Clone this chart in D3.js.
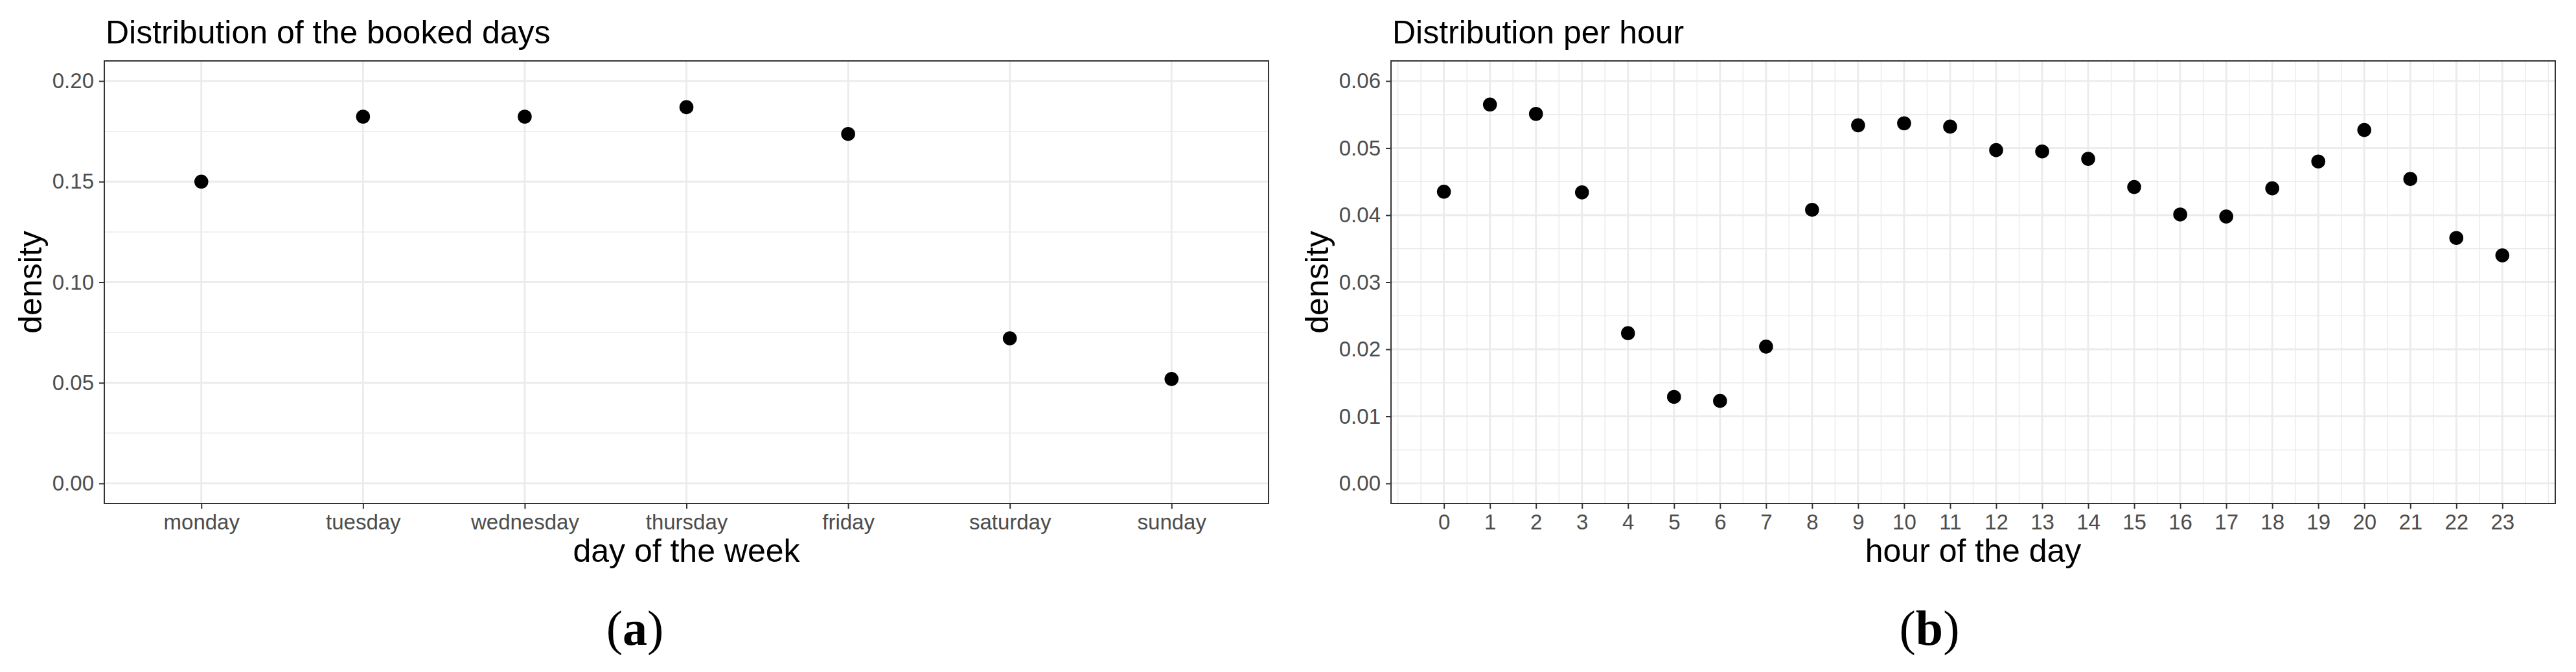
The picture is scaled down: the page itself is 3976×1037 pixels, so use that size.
<!DOCTYPE html>
<html>
<head>
<meta charset="utf-8">
<script src="https://cdn.jsdelivr.net/npm/d3@7"></script>
<style>
  body { margin: 0; background: #fff; }
  svg { display: block; }
</style>
</head>
<body>
<div id="grafico"></div>
<script>
// datos
var dias = ["monday", "tuesday", "wednesday", "thursday", "friday", "saturday", "sunday"];
var densidad_dias = [0.1500, 0.1823, 0.1823, 0.1870, 0.1737, 0.0721, 0.0519];
var ticks_dias = [0, 0.05, 0.10, 0.15, 0.20];

var horas = [0, 1, 2, 3, 4, 5, 6, 7, 8, 9, 10, 11, 12, 13, 14, 15, 16, 17, 18, 19, 20, 21, 22, 23];
var densidad_horas = [0.0435, 0.0565, 0.0551, 0.0434, 0.0224, 0.0129, 0.0123, 0.0204,
                      0.0408, 0.0534, 0.0537, 0.0532, 0.0497, 0.0495, 0.0484, 0.0442,
                      0.0401, 0.0398, 0.0440, 0.0480, 0.0527, 0.0454, 0.0366, 0.0340];
var ticks_horas = [0, 0.01, 0.02, 0.03, 0.04, 0.05, 0.06];

var W = 3976, H = 1037;
var fuente = "'Liberation Sans', Arial, Helvetica, sans-serif";
var gris_grid = "#EBEBEB", gris_borde = "#333333", gris_texto = "#4D4D4D";

var svg = d3.select("#grafico").append("svg")
  .attr("width", W)
  .attr("height", H);

var top_panel = 94, bottom_panel = 777;

function estilo_eje(g) {
  g.select(".domain").remove();
  g.attr("font-family", fuente).attr("font-size", 33);
  g.selectAll("line").attr("stroke", gris_borde).attr("stroke-width", 2);
  g.selectAll("text").attr("fill", gris_texto);
}

function dibuja_panel(p) {
  var g = svg.append("g");
  var x = p.x, y = p.y;

  //**** grid menor ****
  g.selectAll(".menor_y").data(p.menor_y).enter().append("line")
    .attr("x1", p.izq).attr("x2", p.der)
    .attr("y1", function(d) { return y(d); })
    .attr("y2", function(d) { return y(d); })
    .attr("stroke", gris_grid).attr("stroke-width", 1.5);
  if (p.menor_x) {
    g.selectAll(".menor_x").data(p.menor_x).enter().append("line")
      .attr("y1", top_panel).attr("y2", bottom_panel)
      .attr("x1", function(d) { return x(d); })
      .attr("x2", function(d) { return x(d); })
      .attr("stroke", gris_grid).attr("stroke-width", 1.5);
  }
  //**** grid mayor ****
  g.selectAll(".mayor_y").data(p.ticks_y).enter().append("line")
    .attr("x1", p.izq).attr("x2", p.der)
    .attr("y1", function(d) { return y(d); })
    .attr("y2", function(d) { return y(d); })
    .attr("stroke", gris_grid).attr("stroke-width", 2.8);
  g.selectAll(".mayor_x").data(p.cats).enter().append("line")
    .attr("y1", top_panel).attr("y2", bottom_panel)
    .attr("x1", function(d) { return x(d); })
    .attr("x2", function(d) { return x(d); })
    .attr("stroke", gris_grid).attr("stroke-width", 2.8);

  //**** puntos ****
  g.selectAll("circle").data(p.valores).enter().append("circle")
    .attr("cx", function(d, i) { return x(p.cats[i]); })
    .attr("cy", function(d) { return y(d); })
    .attr("r", 10.8)
    .attr("fill", "#000");

  // borde del panel
  g.append("rect")
    .attr("x", p.izq).attr("y", top_panel)
    .attr("width", p.der - p.izq).attr("height", bottom_panel - top_panel)
    .attr("fill", "none").attr("stroke", gris_borde).attr("stroke-width", 2);

  //**** ejes ****
  var ejeY = d3.axisLeft(y).tickValues(p.ticks_y).tickFormat(d3.format(".2f"))
    .tickSize(8).tickPadding(8);
  g.append("g").attr("transform", "translate(" + p.izq + ",0)").call(ejeY).call(estilo_eje);

  var ejeX = d3.axisBottom(x).tickValues(p.cats).tickSize(8).tickPadding(8.5);
  g.append("g").attr("transform", "translate(0," + bottom_panel + ")").call(ejeX).call(estilo_eje);

  //**** textos ****
  g.append("text")
    .attr("x", p.izq + 2).attr("y", 67)
    .attr("font-family", fuente).attr("font-size", 50)
    .text(p.titulo);

  g.append("text")
    .attr("x", (p.izq + p.der) / 2).attr("y", 867)
    .attr("text-anchor", "middle")
    .attr("font-family", fuente).attr("font-size", 50)
    .text(p.titulo_x);

  g.append("text")
    .attr("transform", "translate(" + (p.izq - 97) + "," + ((top_panel + bottom_panel) / 2) + ") rotate(-90)")
    .attr("text-anchor", "middle")
    .attr("font-family", fuente).attr("font-size", 50)
    .text("density");

  // etiqueta (a) / (b)
  var et = g.append("text")
    .attr("x", p.centro_fig).attr("y", 995)
    .attr("text-anchor", "middle")
    .attr("font-family", "'Liberation Serif', 'Times New Roman', serif")
    .attr("font-size", 76);
  et.append("tspan").text("(");
  et.append("tspan").attr("font-weight", "bold").text(p.letra);
  et.append("tspan").text(")");
}

//**** panel (a): dias ****
var izqA = 161, derA = 1958;
var xA = d3.scalePoint().domain(dias).range([izqA, derA]).padding(0.6);
var yA = d3.scaleLinear().domain([-0.01, 0.21]).range([bottom_panel, top_panel]);
dibuja_panel({
  x: xA, y: yA, izq: izqA, der: derA,
  cats: dias, valores: densidad_dias,
  ticks_y: ticks_dias, menor_y: [0.025, 0.075, 0.125, 0.175],
  menor_x: null,
  titulo: "Distribution of the booked days",
  titulo_x: "day of the week",
  centro_fig: 980, letra: "a"
});

//**** panel (b): horas ****
var izqB = 2147, derB = 3944;
var xB = d3.scaleLinear().domain([-1.15, 24.15]).range([izqB, derB]);
var yB = d3.scaleLinear().domain([-0.003, 0.063]).range([bottom_panel, top_panel]);
// lineas menores cada media hora (como ggplot, incluye -1 y 24)
var menor_xB = [];
for (var h = -1; h <= 24; h += 0.5) menor_xB.push(h);
dibuja_panel({
  x: xB, y: yB, izq: izqB, der: derB,
  cats: horas, valores: densidad_horas,
  ticks_y: ticks_horas, menor_y: [0.005, 0.015, 0.025, 0.035, 0.045, 0.055],
  menor_x: menor_xB,
  titulo: "Distribution per hour",
  titulo_x: "hour of the day",
  centro_fig: 2978, letra: "b"
});
</script>
</body>
</html>
